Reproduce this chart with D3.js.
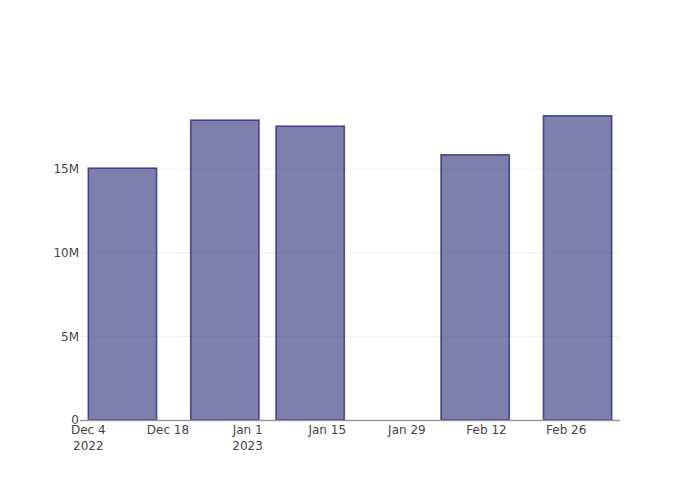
<!DOCTYPE html>
<html>
<head>
<meta charset="utf-8">
<script src="https://cdn.jsdelivr.net/npm/d3@7"></script>
<style>
	body { margin: 0; background: #fff; }
	svg text { font-family: "DejaVu Sans", "Open Sans", sans-serif; font-size: 12px; fill: #444; }
</style>
</head>
<body>
<div id="chart"></div>
<script>
// bar dates (centre) and values
var barDates = ['2022-12-10', '2022-12-28', '2023-01-12', '2023-02-10', '2023-02-28'];
var barValues = [15060000, 17930000, 17570000, 15860000, 18190000];
var yTicks = [0, 5000000, 10000000, 15000000];
var yTickLabels = ['0', '5M', '10M', '15M'];
var xTicks = ['2022-12-04', '2022-12-18', '2023-01-01', '2023-01-15', '2023-01-29', '2023-02-12', '2023-02-26'];
var xTickLabels = [['Dec 4', '2022'], ['Dec 18'], ['Jan 1', '2023'], ['Jan 15'], ['Jan 29'], ['Feb 12'], ['Feb 26']];

(function() {
	var width = 700,
		height = 500,
		left = 80, right = 620,
		top = 100, bottom = 420,
		barDays = 12,
		dayMs = 86400000;

	var parse = d3.utcParse('%Y-%m-%d');
	var dates = barDates.map(parse);

	var first = new Date(+dates[0] - barDays / 2 * dayMs),
		last = new Date(+dates[dates.length - 1] + barDays / 2 * dayMs);
	// small padding either side like plotly's autorange
	var pad = (last - first) * 8.3 / 523;
	var x = d3.scaleUtc()
		.domain([new Date(+first - pad), new Date(+last + pad)])
		.range([left, right]);
	var y = d3.scaleLinear()
		.domain([0, d3.max(barValues) * 1.052])
		.range([bottom, top]);

	var svg = d3.select('#chart').append('svg')
		.attr('width', width)
		.attr('height', height);

	// gridlines
	svg.append('g').selectAll('line')
		.data(yTicks.filter(function(d) { return d > 0; }))
		.enter().append('line')
		.attr('x1', left).attr('x2', right)
		.attr('y1', function(d) { return y(d); })
		.attr('y2', function(d) { return y(d); })
		.attr('stroke', '#eee')
		.attr('stroke-width', 1);

	// bars
	svg.append('g').selectAll('rect')
		.data(barValues)
		.enter().append('rect')
		.attr('x', function(d, i) { return x(new Date(+dates[i] - barDays / 2 * dayMs)); })
		.attr('width', function(d, i) { return x(new Date(+dates[i] + barDays / 2 * dayMs)) - x(new Date(+dates[i] - barDays / 2 * dayMs)); })
		.attr('y', function(d) { return y(d); })
		.attr('height', function(d) { return y(0) - y(d); })
		.attr('fill', 'rgba(42,42,120,0.6)')
		.attr('stroke', 'rgba(35,35,115,0.75)')
		.attr('stroke-width', 1.6);

	// x axis line
	svg.append('line')
		.attr('x1', left).attr('x2', right)
		.attr('y1', bottom + 0.5).attr('y2', bottom + 0.5)
		.attr('stroke', '#999')
		.attr('stroke-width', 1.5);

	// y tick labels
	svg.append('g').selectAll('text')
		.data(yTicks)
		.enter().append('text')
		.attr('x', left - 1)
		.attr('y', function(d) { return y(d); })
		.attr('dy', '0.35em')
		.attr('text-anchor', 'end')
		.text(function(d, i) { return yTickLabels[i]; });

	// x tick labels
	var xt = svg.append('g').selectAll('text')
		.data(xTicks)
		.enter().append('text')
		.attr('text-anchor', 'middle')
		.attr('transform', function(d) { return 'translate(' + x(parse(d)) + ',' + (bottom + 14) + ')'; });
	xt.selectAll('tspan')
		.data(function(d, i) { return xTickLabels[i]; })
		.enter().append('tspan')
		.attr('x', 0)
		.attr('y', function(d, j) { return j * 16; })
		.text(function(d) { return d; });
})();
</script>
</body>
</html>
